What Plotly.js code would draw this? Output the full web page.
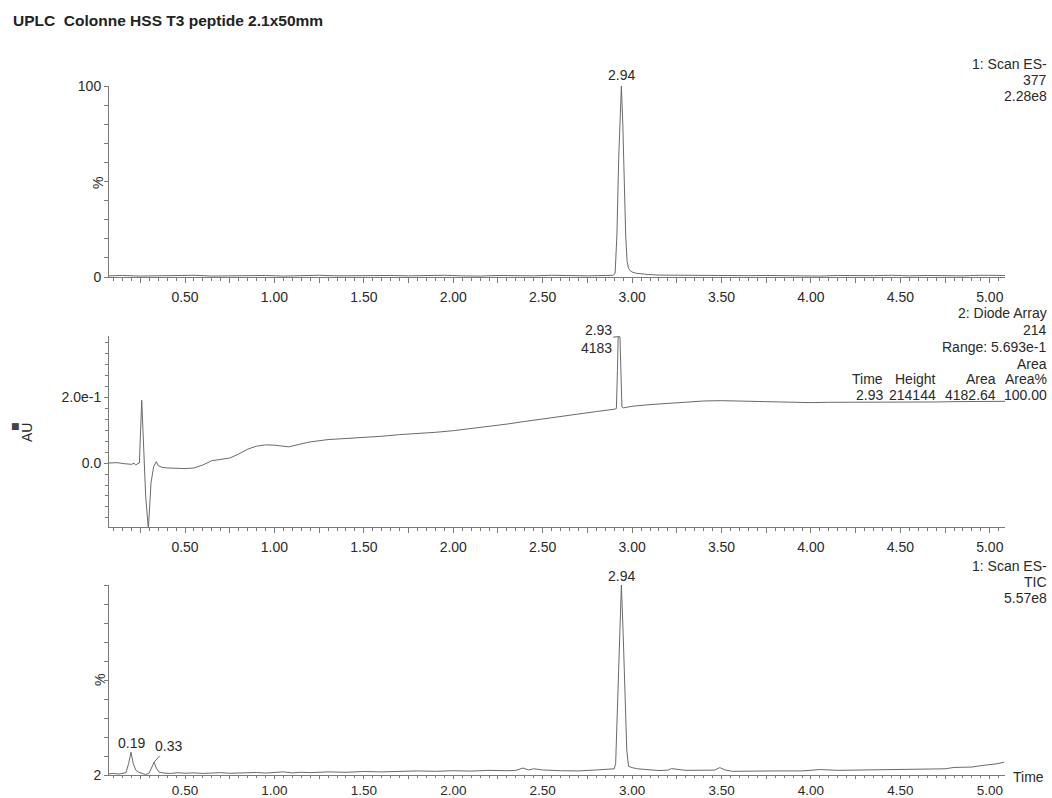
<!DOCTYPE html>
<html><head><meta charset="utf-8">
<script src="https://cdn.plot.ly/plotly-3.0.1.min.js"></script>
<style>html,body{margin:0;padding:0;background:#fff}</style>
</head><body><div id="chart" style="width:1052px;height:798px"></div>
<script>
const chartTitle = 'UPLC\u00a0 Colonne HSS T3 peptide 2.1x50mm';

// ---- Panel 1 : 1: Scan ES- 377 ----
const sirTime = [0.075,0.15,0.25,0.35,0.45,0.55,0.65,0.75,0.85,0.95,1.05,1.15,1.25,1.35,1.45,1.55,1.65,1.75,1.85,1.95,2.05,2.15,2.25,2.35,2.45,2.55,2.65,2.75,2.85,
  2.895,2.905,2.915,2.925,2.935,2.94,2.948,2.956,2.964,2.972,2.98,2.99,3.00,3.02,3.05,3.09,
  3.15,3.25,3.35,3.45,3.55,3.65,3.75,3.85,3.95,4.05,4.15,4.25,4.35,4.45,4.55,4.65,4.75,4.85,4.95,5.05,5.085];
const sirPct = [0.6,0.8,0.5,0.7,0.6,0.9,0.5,0.7,0.6,0.8,0.5,0.7,0.9,0.6,0.7,0.5,0.8,0.6,0.7,0.9,0.6,0.5,0.8,0.7,0.6,0.9,0.7,0.6,0.8,
  0.9,2,22,62,92,100,80,48,22,8,4.5,3.2,2.6,2.0,1.6,1.3,
  1.0,0.9,0.7,0.8,0.6,0.7,0.8,0.6,0.7,0.5,0.8,0.6,0.7,0.9,0.6,0.8,0.7,0.6,0.9,0.7,0.8];
const sirPeakTime = [2.94];
const sirPeakValue = [100];
const sirPeakLabel = ['2.94'];
const sirInfo = ['1: Scan ES-', '377', '2.28e8'];

// ---- Panel 2 : 2: Diode Array 214 ----
const pdaTime = [0.075,0.12,0.16,0.2,0.215,0.225,0.235,0.245,0.258,0.268,0.28,0.295,0.31,0.325,0.34,0.35,0.37,0.4,0.45,0.5,0.55,0.6,0.65,0.7,0.75,0.8,0.85,0.9,0.95,1.0,1.05,1.08,1.12,1.2,1.3,1.4,1.5,1.6,1.7,1.8,1.9,2.0,2.1,2.2,2.3,2.4,2.5,2.6,2.7,2.8,2.9,
  2.912,2.918,2.922,2.932,2.937,2.943,2.95,2.97,3.0,3.1,3.2,3.3,3.4,3.5,3.6,3.7,3.8,3.9,4.0,4.1,4.2,4.3,4.4,4.5,4.6,4.7,4.8,4.9,5.0,5.085];
const pdaAU = [0.0,0.001,-0.002,-0.004,-0.001,-0.006,-0.002,0.0,0.19,0.05,-0.1,-0.2,-0.06,-0.01,0.004,-0.008,-0.013,-0.015,-0.016,-0.017,-0.015,-0.006,0.007,0.01,0.015,0.027,0.042,0.051,0.055,0.054,0.05,0.049,0.054,0.064,0.071,0.074,0.076,0.081,0.086,0.089,0.093,0.098,0.104,0.111,0.118,0.126,0.134,0.142,0.149,0.156,0.163,
  0.165,0.28,0.383,0.383,0.26,0.17,0.167,0.169,0.172,0.177,0.181,0.185,0.188,0.189,0.188,0.186,0.184,0.183,0.183,0.184,0.184,0.183,0.183,0.184,0.185,0.185,0.186,0.186,0.186,0.187];
const pdaPeakTime = [2.922];
const pdaPeakValue = [0.383];
const pdaPeakLabel = ['2.93<br>4183'];
const pdaInfo = ['2: Diode Array', '214', 'Range: 5.693e-1', 'Area'];
const pdaTableHeader = ['Time', 'Height', 'Area', 'Area%'];
const pdaTableRow = ['2.93', '214144', '4182.64', '100.00'];

// ---- Panel 3 : 1: Scan ES- TIC ----
const ticTime = [0.075,0.10,0.13,0.15,0.17,0.185,0.198,0.21,0.225,0.24,0.26,0.28,0.30,0.315,0.327,0.34,0.355,0.38,0.42,0.46,
  0.50,0.55,0.60,0.65,0.70,0.75,0.80,0.85,0.90,0.95,1.00,1.05,1.10,1.15,1.20,1.30,1.40,1.50,1.60,1.70,1.80,1.90,2.00,2.10,2.20,2.30,2.35,2.39,2.42,2.45,2.50,2.60,2.70,2.80,2.88,
  2.90,2.908,2.918,2.928,2.94,2.95,2.96,2.97,2.98,3.00,3.03,3.06,3.10,3.15,3.20,3.22,3.30,3.40,3.46,3.49,3.52,3.56,3.65,3.80,3.95,4.05,4.15,4.30,4.45,4.60,4.75,4.80,4.90,4.95,5.00,5.04,5.08];
const ticPct = [2.6,2.8,2.5,2.8,3.2,8,13.7,8,4.5,3.5,2.8,2.2,3,6,8.6,5.5,3.5,3.0,2.8,3.2,
  2.9,3.1,2.8,3.0,3.2,2.9,3.1,3.0,3.3,3.0,3.2,3.6,3.1,3.4,3.2,3.6,3.4,3.8,3.6,3.9,4.1,3.9,4.2,4.0,4.4,4.2,4.4,5.6,4.6,5.2,4.6,4.2,4.1,4.6,4.8,
  5.2,8,38,72,100,75,40,15,6.5,5.8,5.2,4.9,4.6,4.3,4.5,5.3,4.4,4.6,4.5,5.8,4.6,3.9,4.1,4.1,4.1,4.8,4.4,4.6,5.0,5.1,5.2,5.9,6.1,6.8,7.2,7.8,8.6];
const ticPeakTime = [0.198, 0.327, 2.94];
const ticPeakValue = [13.7, 8.6, 100];
const ticPeakLabel = ['0.19', '0.33', '2.94'];
const ticInfo = ['1: Scan ES-', 'TIC', '5.57e8'];

// ---- Axis ticks ----
const timeTickVals = [0.25,0.5,0.75,1.0,1.25,1.5,1.75,2.0,2.25,2.5,2.75,3.0,3.25,3.5,3.75,4.0,4.25,4.5,4.75,5.0];
const timeTickText = ['','0.50','','1.00','','1.50','','2.00','','2.50','','3.00','','3.50','','4.00','','4.50','','5.00'];
const pctTickVals = [0,10,20,30,40,50,60,70,80,90,100];
const pctTickText = ['0','','','','','','','','','','100'];
const auTickVals = [0, 0.2];
const auTickText = ['0.0', '2.0e-1'];
const ticTickVals = [2,11.8,21.6,31.4,41.2,51,60.8,70.6,80.4,90.2,100];
const ticTickText = ['2','','','','','','','','','',''];

// ---- layout helpers (pixel positions -> paper) ----
const W = 1052, H = 798;
const px = v => v / W;
const py = v => 1 - v / H;
const FONT = 'Liberation Sans, Arial, sans-serif';
const TXT = '#2a2a2a';
const AX = '#7a7a7a';
const LINE = '#6a6a6a';

function xAxis(anchor, ticklen, standoff, fsize) {
  return {
    anchor: anchor, domain: [px(109), px(1005)], range: [0.075, 5.085],
    showline: true, linecolor: AX, linewidth: 1, mirror: false,
    ticks: 'outside', ticklen: ticklen, tickcolor: AX, tickwidth: 1,
    tickmode: 'array', tickvals: timeTickVals, ticktext: timeTickText,
    tickfont: {family: FONT, size: fsize, color: TXT},
    ticklabelstandoff: standoff,
    minor: {tickmode: 'linear', tick0: 0, dtick: 0.05, ticks: 'outside', ticklen: Math.max(2, ticklen - 2), tickcolor: AX, showgrid: false},
    showgrid: false, zeroline: false, fixedrange: true
  };
}
function yAxis(anchor, domPx, range, vals, text, minor) {
  const ax = {
    anchor: anchor, domain: [py(domPx[0]), py(domPx[1])], range: range,
    showline: true, linecolor: AX, linewidth: 1,
    ticks: 'outside', ticklen: 4, tickcolor: AX, tickwidth: 1,
    tickmode: 'array', tickvals: vals, ticktext: text,
    tickfont: {family: FONT, size: 14, color: TXT},
    ticklabelstandoff: 0,
    showgrid: false, zeroline: false, fixedrange: true
  };
  if (minor) ax.minor = minor;
  return ax;
}

const traces = [
  {x: sirTime, y: sirPct, xaxis: 'x', yaxis: 'y', type: 'scatter', mode: 'lines', line: {color: LINE, width: 1}, hoverinfo: 'skip'},
  {x: pdaTime, y: pdaAU, xaxis: 'x2', yaxis: 'y2', type: 'scatter', mode: 'lines', line: {color: LINE, width: 1}, hoverinfo: 'skip'},
  {x: ticTime, y: ticPct, xaxis: 'x3', yaxis: 'y3', type: 'scatter', mode: 'lines', line: {color: LINE, width: 1}, hoverinfo: 'skip'}
];

const ann = [];
function txt(text, x, y, xanchor, extra) {
  ann.push(Object.assign({text: text, xref: 'paper', yref: 'paper', x: px(x), y: py(y), xanchor: xanchor || 'left', yanchor: 'middle',
    showarrow: false, font: {family: FONT, size: 14, color: TXT}}, extra || {}));
}
// title
txt(chartTitle, 11, 20, 'left', {font: {family: FONT, size: 15.5, color: '#222', weight: 'bold'}});
// right info blocks
sirInfo.forEach((t, i) => txt(t, 1049, 64 + i * 16, 'right'));
pdaInfo.forEach((t, i) => txt(t, 1049, 313 + i * 17, 'right'));
ticInfo.forEach((t, i) => txt(t, 1049, 566 + i * 16, 'right'));
// PDA peak table
const tableRight = [885, 938, 998, 1049];
pdaTableHeader.forEach((t, i) => txt(t, tableRight[i], 379, 'right'));
pdaTableRow.forEach((t, i) => txt(t, tableRight[i], 395, 'right'));
// y-axis titles
txt('%', 98, 183, 'center', {textangle: -90});
txt('%', 100, 680, 'center', {textangle: -90});
txt('AU', 27, 433, 'center', {textangle: -90});
txt('\u25A0', 15, 426, 'center', {font: {family: 'DejaVu Sans', size: 9, color: '#444'}});
// time label
txt('Time', 1011, 777, 'left');

// peak labels through data coordinates
sirPeakTime.forEach((t, i) => ann.push({text: sirPeakLabel[i], xref: 'x', yref: 'y', x: t, y: sirPeakValue[i], xanchor: 'center', yanchor: 'bottom', yshift: 1,
  showarrow: false, font: {family: FONT, size: 14, color: TXT}}));
pdaPeakTime.forEach((t, i) => ann.push({text: pdaPeakLabel[i], xref: 'x2', yref: 'y2', x: t, y: pdaPeakValue[i], ax: -22, ay: 2,
  showarrow: true, arrowhead: 0, arrowwidth: 1, arrowcolor: LINE, standoff: 0, align: 'right',
  font: {family: FONT, size: 14, color: TXT}}));
ticPeakTime.forEach((t, i) => {
  if (i === 1) {
    ann.push({text: ticPeakLabel[i], xref: 'x3', yref: 'y3', x: t, y: ticPeakValue[i], ax: 14, ay: -16,
      showarrow: true, arrowhead: 0, arrowwidth: 1, arrowcolor: LINE, standoff: 0,
      font: {family: FONT, size: 14, color: TXT}});
  } else {
    ann.push({text: ticPeakLabel[i], xref: 'x3', yref: 'y3', x: t, y: ticPeakValue[i], xanchor: 'center', yanchor: 'bottom', yshift: -1,
      showarrow: false, font: {family: FONT, size: 14, color: TXT}});
  }
});

const layout = {
  width: W, height: H, margin: {l: 0, r: 0, t: 0, b: 0},
  paper_bgcolor: '#fff', plot_bgcolor: '#fff', showlegend: false,
  xaxis: xAxis('y', 5, 2, 14), xaxis2: xAxis('y2', 5, 2, 14), xaxis3: xAxis('y3', 3, 0, 13.5),
  yaxis: yAxis('x', [277, 86], [0, 100], pctTickVals, pctTickText),
  yaxis2: yAxis('x2', [527, 336], [-0.194, 0.385], auTickVals, auTickText,
    {tickmode: 'linear', tick0: 0, dtick: 0.2 / 6, ticks: 'outside', ticklen: 3, tickcolor: AX, showgrid: false}),
  yaxis3: yAxis('x3', [775, 585], [2, 100], ticTickVals, ticTickText),
  annotations: ann
};

Plotly.newPlot('chart', traces, layout, {displayModeBar: false, staticPlot: true});
</script></body></html>
